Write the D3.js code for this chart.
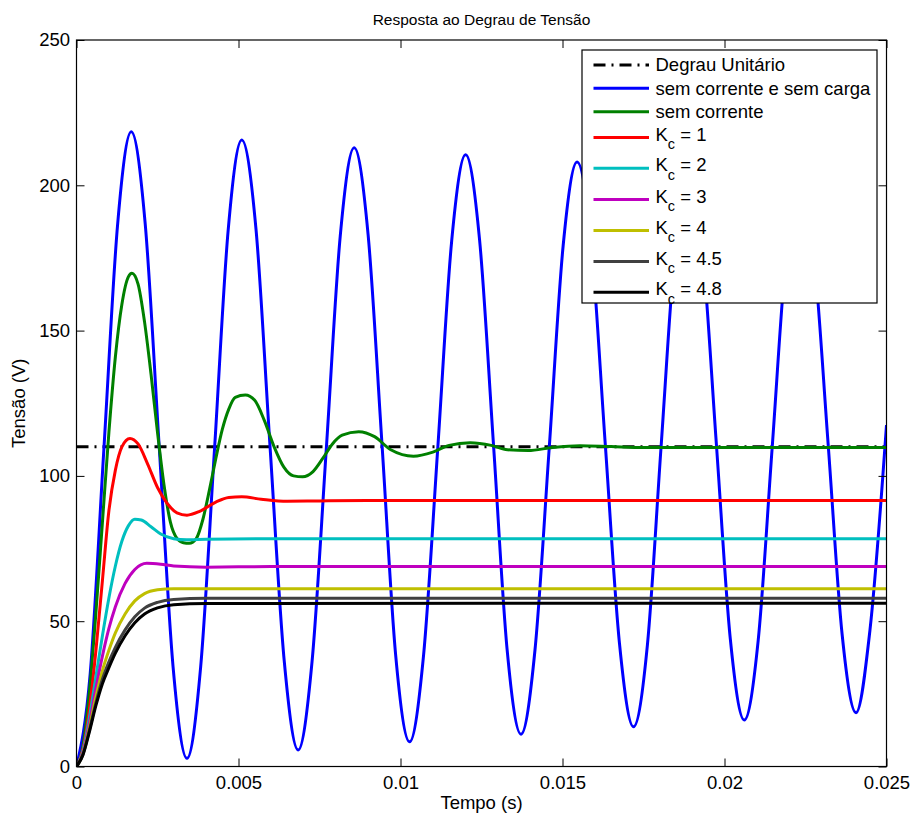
<!DOCTYPE html>
<html>
<head>
<meta charset="utf-8">
<script src="https://cdn.jsdelivr.net/npm/d3@7"></script>
<style>
  html, body { margin: 0; padding: 0; background: #fff; }
  svg { display: block; font-family: "Liberation Sans", Arial, Helvetica, sans-serif; }
</style>
</head>
<body>
<svg id="chart" width="911" height="816"></svg>
<script>
// ---------------- DATA ----------------
const xTicks = [0, 0.005, 0.01, 0.015, 0.02, 0.025];
const xTickLabels = ["0", "0.005", "0.01", "0.015", "0.02", "0.025"];
const yTicks = [0, 50, 100, 150, 200, 250];
const yTickLabels = ["0", "50", "100", "150", "200", "250"];

const stepTime = [0, 0.025];
const stepValue = [110, 110];

const blueTime = [0, 0.000423, 0.000845, 0.001268, 0.00169, 0.00212, 0.00255, 0.00298, 0.00341,
  0.00383, 0.00426, 0.00468, 0.00510, 0.00554, 0.00597, 0.00641, 0.00684,
  0.00727, 0.00771, 0.00814, 0.00857, 0.00900, 0.00943, 0.00985, 0.01028,
  0.01071, 0.01115, 0.01158, 0.01201, 0.01244, 0.01287, 0.01329, 0.01372,
  0.01415, 0.01459, 0.01502, 0.01545, 0.01589, 0.01632, 0.01676, 0.01719,
  0.01762, 0.01804, 0.01847, 0.01889, 0.01932, 0.01975, 0.02018, 0.02061,
  0.02104, 0.02147, 0.02190, 0.02233, 0.02276, 0.02320, 0.02363, 0.02406,
  0.02449, 0.025];
const blueValue = [0, 32.0, 109.2, 186.4, 218.4, 186.8, 110.6, 34.4, 2.8,
  34.0, 109.2, 184.4, 215.6, 184.9, 110.7, 36.5, 5.7,
  36.1, 109.3, 182.5, 212.9, 183.0, 110.7, 38.4, 8.5,
  38.1, 109.5, 180.9, 210.5, 181.3, 110.8, 40.3, 11.1,
  40.0, 109.6, 179.2, 208.0, 179.5, 110.9, 42.2, 13.7,
  41.8, 109.6, 177.4, 205.5, 177.8, 110.8, 43.8, 16.0,
  43.4, 109.5, 175.6, 203.0, 176.0, 110.8, 45.5, 18.5,
  47.0, 117.5];

const greenTime = [0, 0.0002, 0.0004, 0.0006, 0.0008, 0.001, 0.0012, 0.0014, 0.0016, 0.00171,
  0.0019, 0.0021, 0.0023, 0.0025, 0.0027, 0.0029, 0.0031, 0.0033, 0.00348,
  0.0037, 0.0039, 0.0041, 0.0043, 0.0045, 0.0047, 0.0049, 0.00521,
  0.0055, 0.0058, 0.0061, 0.0064, 0.0067, 0.00698, 0.0073, 0.0076, 0.0079, 0.0082, 0.00871,
  0.0092, 0.0097, 0.0104, 0.0110, 0.0115, 0.01215, 0.0128, 0.0133, 0.01394,
  0.0147, 0.01554, 0.0165, 0.0175, 0.019, 0.021, 0.025];
const greenValue = [0, 7, 26, 53, 84, 115, 141, 159, 168.5, 169.7,
  166, 153, 135, 115, 97, 84, 78.5, 77.0, 76.8,
  78.5, 85, 95, 106, 116, 123, 127, 127.8,
  126, 119, 110, 103, 100, 99.7, 101.5, 106, 111, 114, 115.2,
  113.5, 109, 106.8, 108.2, 110.5, 111.4, 110.5, 109, 108.7,
  109.8, 110.4, 110.1, 109.8, 109.8, 109.8, 109.8];

const redTime = [0, 0.0002, 0.0004, 0.0006, 0.0008, 0.001, 0.0012, 0.0014, 0.00165,
  0.0019, 0.0022, 0.0025, 0.0028, 0.0031, 0.00341, 0.0038, 0.0043, 0.0047, 0.0051,
  0.0057, 0.0065, 0.0075, 0.009, 0.025];
const redValue = [0, 6, 20, 40, 64, 88, 102, 110, 112.9,
  111, 104, 96, 90.5, 87.3, 86.5, 87.8, 91, 92.6, 92.8,
  92, 91.3, 91.4, 91.5, 91.5];

const cyanTime = [0, 0.0002, 0.0004, 0.0006, 0.0008, 0.001, 0.0012, 0.0014, 0.0016, 0.0018,
  0.002, 0.0023, 0.0026, 0.003, 0.0034, 0.004, 0.006, 0.025];
const cyanValue = [0, 5.5, 17, 31, 45, 58, 69, 77.5, 82.8, 85.1,
  84.8, 82.5, 80, 78.4, 78.0, 78.2, 78.4, 78.4];

const magentaTime = [0, 0.0002, 0.0004, 0.0006, 0.0008, 0.001, 0.0012, 0.0015, 0.0018, 0.00217,
  0.0026, 0.003, 0.004, 0.006, 0.025];
const magentaValue = [0, 5, 15, 27, 38, 47.5, 55, 63, 67.8, 69.9,
  69.6, 69.0, 68.6, 68.8, 68.8];

const yellowTime = [0, 0.0002, 0.0004, 0.0006, 0.0008, 0.001, 0.0012, 0.0015, 0.0018, 0.0021,
  0.0025, 0.003, 0.004, 0.025];
const yellowValue = [0, 4.5, 13.5, 24, 33, 40, 46, 52.5, 57, 59.5,
  60.8, 61.2, 61.2, 61.2];

const grayTime = [0, 0.0002, 0.0004, 0.0006, 0.0008, 0.001, 0.0012, 0.0015, 0.0018, 0.0021,
  0.0025, 0.003, 0.004, 0.025];
const grayValue = [0, 4.2, 12.6, 22, 30, 36, 41, 47, 51.5, 54.5,
  56.5, 57.5, 57.9, 57.9];

const blackTime = [0, 0.0002, 0.0004, 0.0006, 0.0008, 0.001, 0.0012, 0.0015, 0.0018, 0.0021,
  0.0025, 0.003, 0.004, 0.025];
const blackValue = [0, 4, 12, 21, 28.5, 34, 39, 45, 49.5, 52.5,
  54.6, 55.7, 56.1, 56.2];

const seriesNames = ["Degrau Unitário", "sem corrente e sem carga", "sem corrente",
  "K_c = 1", "K_c = 2", "K_c = 3", "K_c = 4", "K_c = 4.5", "K_c = 4.8"];
const seriesColors = ["#000000", "#0000ff", "#008000", "#ff0000", "#00bfbf", "#bf00bf", "#bfbf00", "#404040", "#000000"];

const titleText = "Resposta ao Degrau de Tensão";
const xLabelText = "Tempo (s)";
const yLabelText = "Tensão (V)";

// ---------------- CHART ----------------
const svg = d3.select("#chart");
const L = 76.5, R = 886.5, T = 40, B = 766.5;
const x = d3.scaleLinear().domain([0, 0.025]).range([L, R]);
const y = d3.scaleLinear().domain([0, 250]).range([B, T]);
const FS = 18.5;

const zip = (ts, vs) => ts.map((t, i) => [t, vs[i]]);
const series = [
  zip(stepTime, stepValue),
  zip(blueTime, blueValue),
  zip(greenTime, greenValue),
  zip(redTime, redValue),
  zip(cyanTime, cyanValue),
  zip(magentaTime, magentaValue),
  zip(yellowTime, yellowValue),
  zip(grayTime, grayValue),
  zip(blackTime, blackValue)
];

svg.append("defs").append("clipPath").attr("id", "clip")
  .append("rect").attr("x", L).attr("y", T).attr("width", R - L).attr("height", B - T);

svg.append("rect").attr("x", L).attr("y", T).attr("width", R - L).attr("height", B - T).attr("fill", "#fff");

const line = d3.line().x(d => x(d[0])).y(d => y(d[1])).curve(d3.curveMonotoneX);
const plot = svg.append("g").attr("clip-path", "url(#clip)");
series.forEach((s, i) => {
  plot.append("path")
    .attr("d", line(s))
    .attr("fill", "none")
    .attr("stroke", seriesColors[i])
    .attr("stroke-width", 3)
    .attr("stroke-linejoin", "round")
    .attr("stroke-dasharray", i === 0 ? "12,6,2,6" : null);
});

// axes with inward ticks
const fmtX = d => xTickLabels[xTicks.indexOf(d)];
const fmtY = d => yTickLabels[yTicks.indexOf(d)];
const axB = svg.append("g").attr("transform", `translate(0,${B})`)
  .call(d3.axisBottom(x).tickValues(xTicks).tickFormat(fmtX).tickSizeInner(-8).tickSizeOuter(0).tickPadding(9.5));
const axT = svg.append("g").attr("transform", `translate(0,${T})`)
  .call(d3.axisTop(x).tickValues(xTicks).tickFormat("").tickSizeInner(-8).tickSizeOuter(0));
const axLft = svg.append("g").attr("transform", `translate(${L},0)`)
  .call(d3.axisLeft(y).tickValues(yTicks).tickFormat(fmtY).tickSizeInner(-8).tickSizeOuter(0).tickPadding(6.5));
const axRt = svg.append("g").attr("transform", `translate(${R},0)`)
  .call(d3.axisRight(y).tickValues(yTicks).tickFormat("").tickSizeInner(-8).tickSizeOuter(0));
[axB, axT, axLft, axRt].forEach(a => {
  a.select(".domain").remove();
  a.selectAll(".tick line").attr("stroke", "#000").attr("stroke-width", 1);
  a.selectAll("text").attr("font-size", FS).attr("fill", "#000").attr("font-family", "Liberation Sans, Arial, sans-serif");
});
svg.append("rect").attr("x", L).attr("y", T).attr("width", R - L).attr("height", B - T)
  .attr("fill", "none").attr("stroke", "#000").attr("stroke-width", 1.2);

// titles
svg.append("text").attr("x", (L + R) / 2).attr("y", 25).attr("text-anchor", "middle")
  .attr("font-size", 15.5).text(titleText);
svg.append("text").attr("x", (L + R) / 2).attr("y", 809).attr("text-anchor", "middle")
  .attr("font-size", FS).text(xLabelText);
svg.append("text").attr("transform", `translate(25,${(T + B) / 2}) rotate(-90)`).attr("text-anchor", "middle")
  .attr("font-size", FS).text(yLabelText);

// legend
const lgX = 582, lgY = 50, lgW = 295, lgH = 253;
const lg = svg.append("g");
lg.append("rect").attr("x", lgX).attr("y", lgY).attr("width", lgW).attr("height", lgH)
  .attr("fill", "#fff").attr("stroke", "#000").attr("stroke-width", 1.2);
const rowY = [65, 88.3, 111.7, 137.5, 168.3, 199.5, 230.5, 261.5, 292.3];
seriesNames.forEach((name, i) => {
  const yy = rowY[i];
  lg.append("line").attr("x1", 593.5).attr("x2", 649).attr("y1", yy).attr("y2", yy)
    .attr("stroke", seriesColors[i]).attr("stroke-width", 3)
    .attr("stroke-dasharray", i === 0 ? "12,6,2,6" : null);
  const t = lg.append("text").attr("x", 655.5).attr("font-size", FS);
  if (name.startsWith("K_c")) {
    t.attr("y", yy + 3);
    t.append("tspan").text("K");
    t.append("tspan").attr("font-size", FS * 0.78).attr("dy", 8.5).text("c");
    t.append("tspan").attr("dy", -8.5).text(name.slice(3));
  } else {
    t.attr("y", yy + 6.3).text(name);
  }
});
</script>
</body>
</html>
